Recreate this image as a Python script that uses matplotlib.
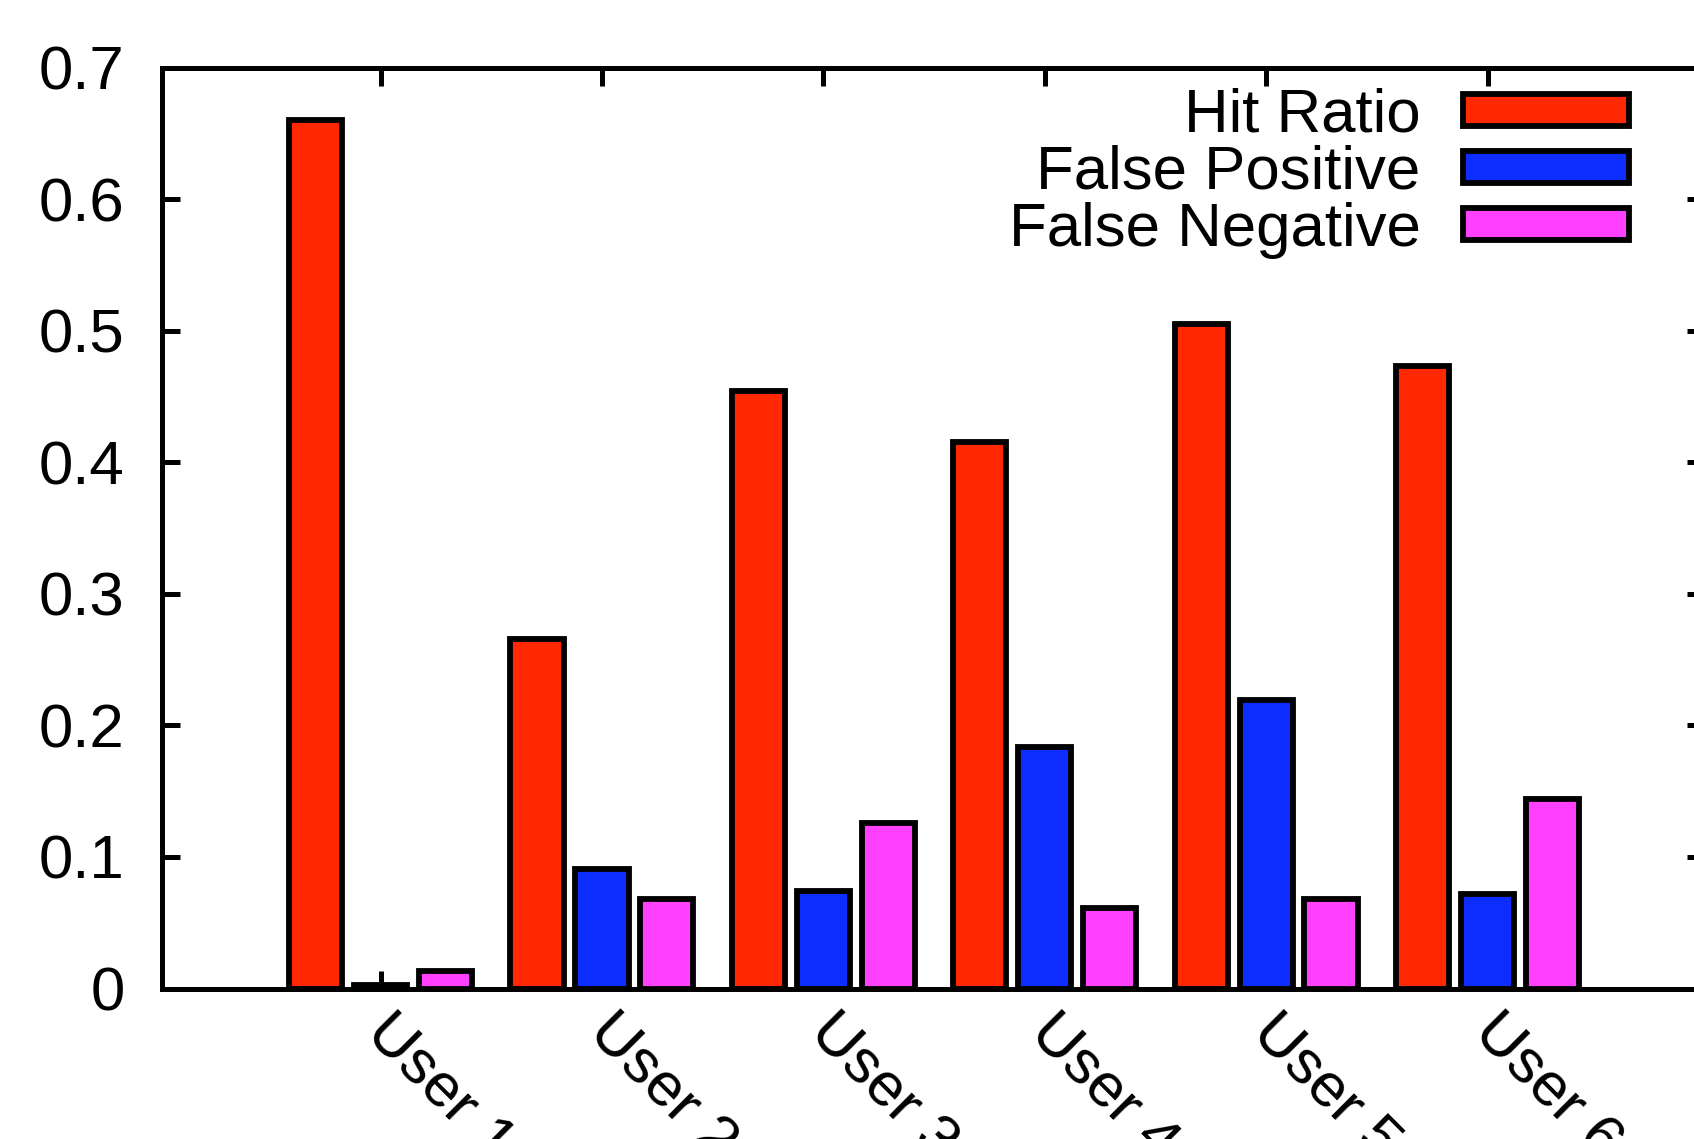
import matplotlib
matplotlib.use("Agg")
import matplotlib.pyplot as plt
import matplotlib.transforms as mtransforms
from matplotlib.patches import Patch
import numpy as np

plt.rcParams['font.family'] = ['Liberation Sans', 'DejaVu Sans']

users = ["User 1", "User 2", "User 3", "User 4", "User 5", "User 6"]
hit_ratio = [0.660, 0.266, 0.454, 0.415, 0.505, 0.473]
false_positive = [0.003, 0.091, 0.074, 0.1835, 0.219, 0.072]
false_negative = [0.0135, 0.068, 0.126, 0.061, 0.068, 0.144]
series_names = ["Hit Ratio", "False Positive", "False Negative"]
series_colors = ["#ff2800", "#0d2dff", "#ff40ff"]
yticks = [0, 0.1, 0.2, 0.3, 0.4, 0.5, 0.6, 0.7]
ytick_labels = ["0", "0.1", "0.2", "0.3", "0.4", "0.5", "0.6", "0.7"]

W, H = 1694, 1139
fig = plt.figure(figsize=(W / 100, H / 100), dpi=100)
left_px, right_px, top_px, bottom_px = 162, 1705, 67.5, 988.5
ax = fig.add_axes([left_px / W, 1 - bottom_px / H,
                   (right_px - left_px) / W, (bottom_px - top_px) / H])

FS = 44.5
x = np.arange(len(users))
offset = 0.293
width = 0.24
edge_lw = 4.2
for k, (vals, name, col) in enumerate(zip([hit_ratio, false_positive, false_negative],
                                          series_names, series_colors)):
    ax.bar(x + (k - 1) * offset, vals, width=width, color=col,
           edgecolor="black", linewidth=edge_lw, label=name, zorder=2)

ax.set_xlim(-0.987, 5.982)
ax.set_ylim(0, 0.7)
ax.set_axisbelow(True)

for s in ax.spines.values():
    s.set_linewidth(3.6)
    s.set_zorder(3)

ax.set_yticks(yticks)
ax.set_yticklabels(ytick_labels)
ax.set_xticks(x)
ax.set_xticklabels(users)
ax.tick_params(axis="both", direction="in", length=13, width=3.6,
               top=True, right=True, labelsize=FS, colors="black")
ax.tick_params(axis="y", pad=27)
ax.tick_params(axis="x", pad=33)

shift = mtransforms.ScaledTranslation(-16 / 100, 0, fig.dpi_scale_trans)
for lab in ax.get_xticklabels():
    lab.set_rotation(-45)
    lab.set_rotation_mode("anchor")
    lab.set_ha("left")
    lab.set_va("baseline")
    lab.set_transform(lab.get_transform() + shift)

handles = [Patch(facecolor=c, edgecolor="black", linewidth=edge_lw) for c in series_colors]
ax.legend(handles, series_names, loc="upper right",
          bbox_to_anchor=(0.951, 0.978), frameon=False, fontsize=FS,
          markerfirst=False, handlelength=2.7, handleheight=0.43,
          handletextpad=0.68, labelspacing=0.0, borderpad=0,
          borderaxespad=0)

fig.savefig("out.png", dpi=100)
